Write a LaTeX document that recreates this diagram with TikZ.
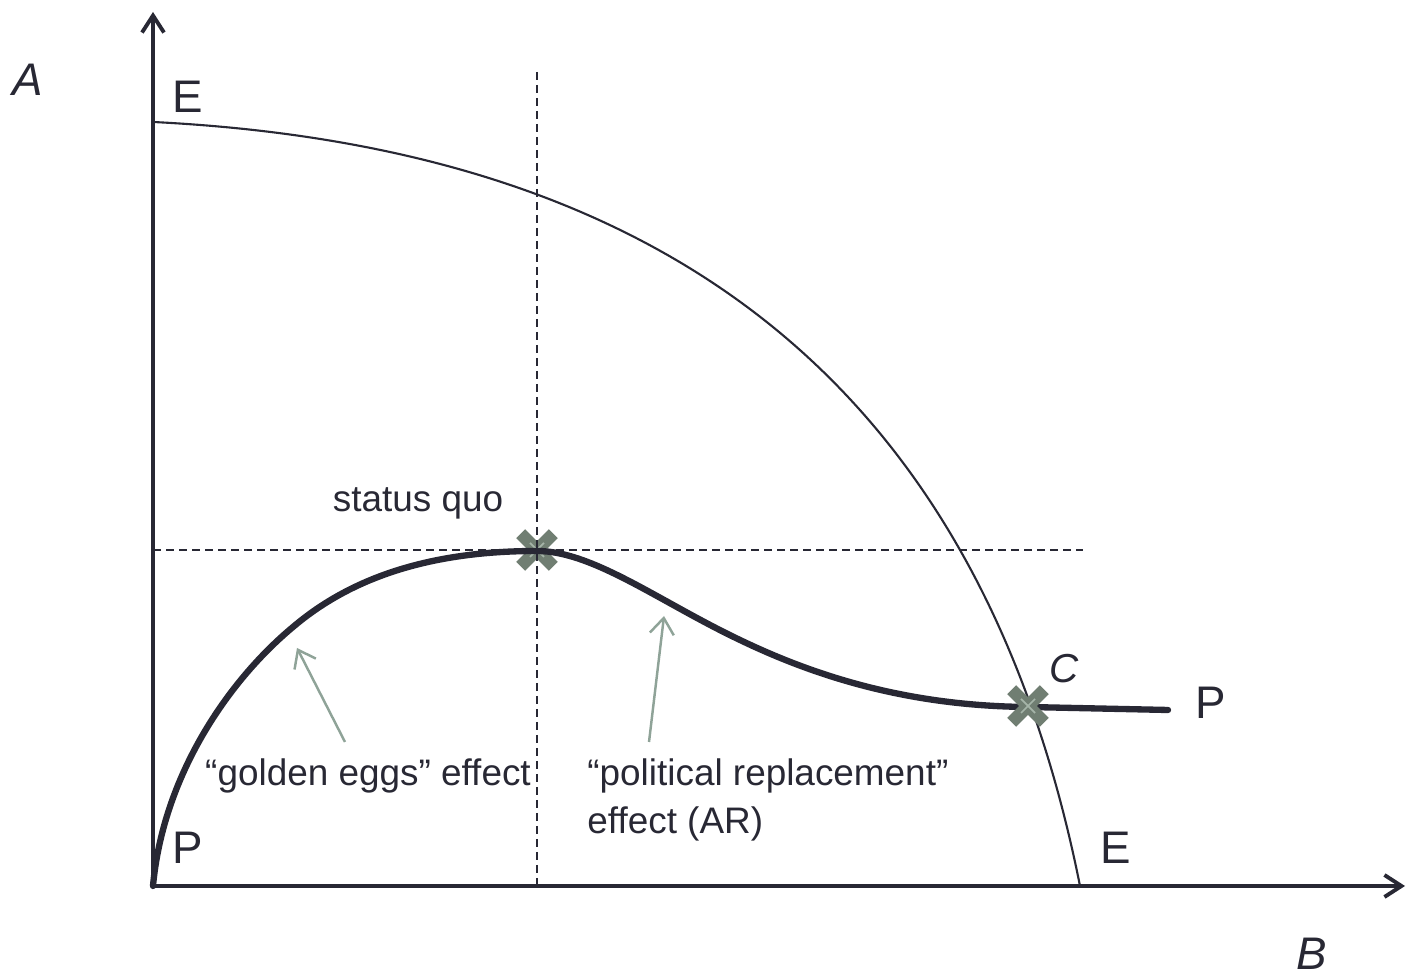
\documentclass[tikz,border=0pt]{standalone}
\usepackage{fontspec}
\setmainfont{Liberation Sans}
\usetikzlibrary{arrows.meta,positioning,shapes.misc}
\definecolor{axisInk}{RGB}{40,40,52}
\definecolor{arrowSage}{RGB}{143,163,152}
\definecolor{markSage}{RGB}{112,126,114}
\definecolor{markLight}{RGB}{165,180,168}

\begin{document}
\begin{tikzpicture}[
    axis/.style={line width=1.1pt, axisInk, -{Straight Barb[length=1.7mm,width=2.2mm,line width=1.1pt]}},
    frontier/.style={line width=0.6pt, axisInk},
    ppath/.style={line width=1.8pt, axisInk, line cap=round},
    guide/.style={line width=0.5pt, axisInk, dash pattern=on 0.8mm off 0.5mm},
    pointer/.style={line width=0.7pt, arrowSage, -{Straight Barb[length=1.6mm,width=2.4mm,line width=0.7pt]}},
    xmark/.style={cross out, draw=markSage, line width=3.6pt, minimum size=0.2cm, inner sep=0pt},
    xin/.style={markLight, line width=0.5pt},
    curvelab/.style={font=\fontsize{13}{15}\selectfont, text=axisInk},
    effect/.style={font=\fontsize{10.5}{13.6}\selectfont, text=axisInk, align=left}
  ]
    \useasboundingbox (-1.53,-0.91) rectangle (12.56,8.86);

    \coordinate (O) at (0,0);
    \coordinate (ytop) at (0,8.74);
    \coordinate (xend) at (12.52,0);

    % Guide lines through the status quo
    \coordinate (sqtop) at (3.84,8.14);
    \coordinate (sqfoot) at (3.84,0);
    \coordinate (sqleft) at (0,3.36);
    \coordinate (sqright) at (9.30,3.36);
    \node[xmark] (sq) at (3.84,3.36) {};
    \draw[xin] ([shift={(-0.07,-0.07)}]sq.center) -- ([shift={(0.07,0.07)}]sq.center);
    \draw[xin] ([shift={(-0.07,0.07)}]sq.center) -- ([shift={(0.07,-0.07)}]sq.center);
    \draw[guide] (sqtop) -- (sqfoot);
    \draw[guide] (sqleft) -- (sqright);

    % Axes
    \draw[axis] (O) -- (ytop);
    \draw[axis] (O) -- (xend);

    % E-E frontier
    \draw[frontier] (0,7.64) .. controls (4.8,7.40) and (8.21,5.3) .. (9.27,0);

    % P-P curve
    \draw[ppath] (O) .. controls (0.1,1.1) and (0.75,2.05) .. (1.40,2.59)
      .. controls (2.0,3.10) and (2.8,3.35) .. (3.84,3.35)
      .. controls (4.4,3.35) and (5.07,2.84) .. (5.87,2.46)
      .. controls (6.57,2.124) and (7.5,1.80) .. (8.75,1.79)
      -- (10.15,1.76);

    \node[xmark] (cpt) at (8.75,1.80) {};
    \draw[xin] ([shift={(-0.07,-0.07)}]cpt.center) -- ([shift={(0.07,0.07)}]cpt.center);
    \draw[xin] ([shift={(-0.07,0.07)}]cpt.center) -- ([shift={(0.07,-0.07)}]cpt.center);

    % Labels
    \node[curvelab, font=\fontsize{13}{15}\selectfont\itshape] (alab) at (-1.25,8.06) {A};
    \node[curvelab, font=\fontsize{13}{15}\selectfont\itshape, inner sep=0pt] (blab) at (11.59,-0.68) {B};
    \node[curvelab] (etop) at (0.35,7.89) {E};
    \node[curvelab] (ebot) at (9.63,0.38) {E};
    \node[curvelab] (pbot) at (0.35,0.38) {P};
    \node[curvelab] (pright) at (10.58,1.83) {P};
    \node[curvelab, font=\fontsize{11.5}{14}\selectfont\itshape] (clab) at (9.11,2.17) {C};
    \node[effect] (sqlab) at (2.65,3.83) {status quo};
    \node[effect] (ge) at (2.15,1.10) {``golden eggs'' effect};
    \node[effect, anchor=west] (pr) at (4.22,0.86) {``political replacement''\\effect (AR)};

    % Effect arrows
    \coordinate (geFoot) at (1.92,1.44);
    \coordinate (geTip) at (1.44,2.38);
    \coordinate (prFoot) at (4.96,1.44);
    \coordinate (prTip) at (5.11,2.70);
    \draw[pointer] (geFoot) -- (geTip);
    \draw[pointer] (prFoot) -- (prTip);
\end{tikzpicture}
\end{document}
